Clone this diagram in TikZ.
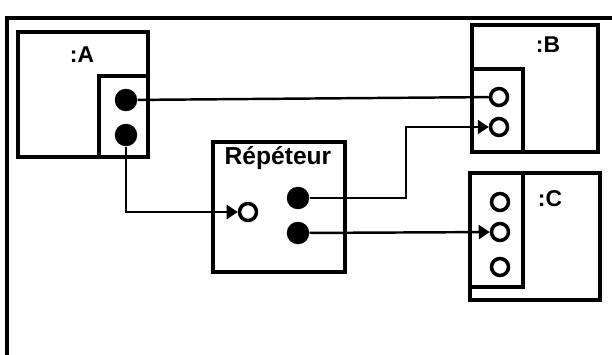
\documentclass[tikz,border=0pt]{standalone}
\usepackage{fontspec}
\setmainfont{Liberation Sans}
\usetikzlibrary{arrows.meta, positioning}

\begin{document}
\begin{tikzpicture}[
    x=0.02cm, y=-0.02cm,
    part/.style={rectangle, draw=black, line width=2pt, inner sep=0pt},
    portbox/.style={rectangle, draw=black, line width=2pt, inner sep=0pt},
    partname/.style={font=\fontsize{13}{15}\selectfont\bfseries, inner sep=0pt},
    outport/.style={circle, fill=black, minimum size=0.45cm, inner sep=0pt},
    inport/.style={circle, draw=black, line width=2pt, minimum size=0.34cm, inner sep=0pt},
    wire/.style={line width=1.4pt},
    arrow/.style={line width=1.4pt, -{Triangle[length=2.2mm, width=2.8mm]}}
]
    \useasboundingbox (0,0) rectangle (612,355);
    % cadre
    \draw[line width=2pt] (612,18) -- (7,18) -- (7,355);

    % composants
    \node[part, minimum width=2.6cm, minimum height=2.5cm] (A) at (83,94.5) {};
    \node[portbox, minimum width=0.98cm, minimum height=1.62cm] (Aports) at (123.5,116.5) {};
    \node[partname] (Aname) at (82,55) {:A};

    \node[part, minimum width=2.64cm, minimum height=2.6cm] (rep) at (279,207) {};
    \node[partname, font=\fontsize{14}{16}\selectfont\bfseries] (repname) at (278,158) {Répéteur};

    \node[part, minimum width=2.52cm, minimum height=2.54cm] (B) at (535,88.5) {};
    \node[portbox, minimum width=1.02cm, minimum height=1.66cm] (Bports) at (497.5,110.5) {};
    \node[partname] (Bname) at (548,45) {:B};

    \node[part, minimum width=2.6cm, minimum height=2.54cm] (C) at (535,236.5) {};
    \node[portbox, minimum width=1.06cm, minimum height=2.28cm] (Cports) at (496.5,230) {};
    \node[partname] (Cname) at (550,199) {:C};

    % ports
    \node[outport] (a1) at (126,100) {};
    \node[outport] (a2) at (126,135) {};
    \node[inport] (rin) at (248,212) {};
    \node[outport] (r1) at (298,198) {};
    \node[outport] (r2) at (298,233) {};
    \node[inport] (b1) at (499,97) {};
    \node[inport] (b2) at (499,127) {};
    \node[inport] (c1) at (500,202) {};
    \node[inport] (c2) at (500,232) {};
    \node[inport] (c3) at (500,267) {};

    % liaisons
    \coordinate (bend) at (406,127);
    \draw[wire] (a1) -- (b1);
    \draw[arrow] (a2) |- (rin);
    \draw[arrow] (r1) -| (bend) -- (b2);
    \draw[arrow] (r2) -- (c2);
\end{tikzpicture}
\end{document}
